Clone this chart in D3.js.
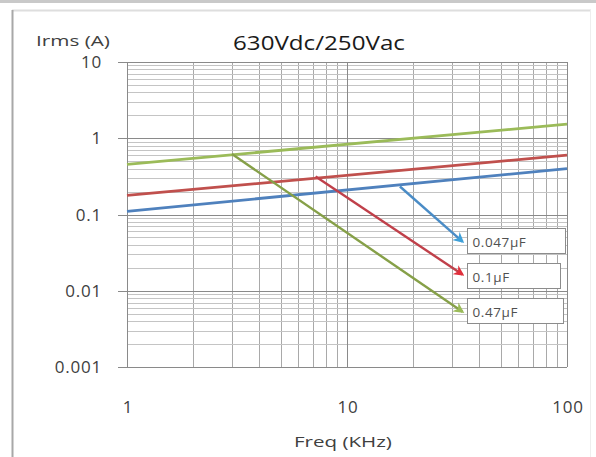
<!DOCTYPE html>
<html><head><meta charset="utf-8">
<script src="https://cdn.jsdelivr.net/npm/d3@7"></script>
<style>body{margin:0;background:#fff}svg{display:block}</style>
</head><body>
<svg id="c" width="596" height="457"></svg>
<script>
const seriesNames = ["0.047µF", "0.1µF", "0.47µF"];
const seriesColors = ["#4f81bd", "#c0504d", "#9bbb59"];
const arrowColors = ["#4a8cc6", "#c0404a", "#86a048"];
const arrowHeadColors = ["#3fa0d8", "#e0303c", "#9bbb59"];
const freqKHz = [1, 100];
const irms047n = [0.11, 0.40];
const irms01u = [0.178, 0.60];
const irms047u = [0.455, 1.53];
const yTicks = [0.001, 0.01, 0.1, 1, 10];
const yTickLabels = ["0.001", "0.01", "0.1", "1", "10"];
const xTicks = [1, 10, 100];
const xTickLabels = ["1", "10", "100"];
// annotation arrows: start [f, I] -> end [f, I]
const arrowStartF = [17.4, 7.2, 3];
const arrowStartI = [0.233, 0.316, 0.62];
const arrowEndF = [33.5, 33.5, 33.5];
const arrowEndI = [0.044, 0.0163, 0.0053];
// label boxes anchored at top-left [f, I]
const boxF = [35.1, 35.1, 35.1];
const boxI = [0.0665, 0.0231, 0.00803];

const svg = d3.select("#c");
const x = d3.scaleLog().domain([1, 100]).range([127, 567]);
const y = d3.scaleLog().domain([0.001, 10]).range([367, 62]);

// frame
svg.append("rect").attr("x",0).attr("y",0).attr("width",596).attr("height",3).attr("fill","#c9c9c9");
svg.append("line").attr("x1",12).attr("x2",591).attr("y1",10.5).attr("y2",10.5).attr("stroke","#dedede").attr("stroke-width",2);
svg.append("line").attr("x1",12.5).attr("x2",12.5).attr("y1",10).attr("y2",457).attr("stroke","#a8a8a8").attr("stroke-width",2);
svg.append("line").attr("x1",590.5).attr("x2",590.5).attr("y1",10).attr("y2",457).attr("stroke","#eeeeee").attr("stroke-width",1);

const g = svg.append("g");
// minor grid
const minorX = [], minorY = [];
for (let d = 1; d < 100; d *= 10) for (let k = 2; k <= 9; k++) minorX.push(d * k);
for (let d = 0.001; d < 9; d *= 10) for (let k = 2; k <= 9; k++) minorY.push(d * k);
g.selectAll(".mx").data(minorX).join("line")
  .attr("x1", d => Math.round(x(d)) + 0.5).attr("x2", d => Math.round(x(d)) + 0.5)
  .attr("y1", y(10)).attr("y2", y(0.001)).attr("stroke", "#a9a9a9").attr("stroke-width", 1);
g.selectAll(".my").data(minorY).join("line")
  .attr("y1", d => Math.round(y(d)) + 0.5).attr("y2", d => Math.round(y(d)) + 0.5)
  .attr("x1", x(1)).attr("x2", x(100)).attr("stroke", "#c4c4c4").attr("stroke-width", 1);
// major grid
g.selectAll(".Mx").data(xTicks).join("line")
  .attr("x1", d => Math.round(x(d)) + 0.5).attr("x2", d => Math.round(x(d)) + 0.5)
  .attr("y1", y(10)).attr("y2", y(0.001)).attr("stroke", "#8a8a8a").attr("stroke-width", 1);
g.selectAll(".My").data(yTicks).join("line")
  .attr("y1", d => Math.round(y(d)) + 0.5).attr("y2", d => Math.round(y(d)) + 0.5)
  .attr("x1", x(1) - 9).attr("x2", x(100)).attr("stroke", "#8a8a8a").attr("stroke-width", 1);

// axis labels
const font = "'Open Sans', sans-serif";
g.selectAll(".yl").data(yTicks).join("text")
  .attr("x", 102).attr("y", d => y(d) + 6).attr("text-anchor", "end")
  .attr("font-family", font).attr("font-size", 17).attr("letter-spacing", 0.8).attr("fill", "#404040")
  .text((d, i) => yTickLabels[i]);
g.selectAll(".xl").data(xTicks).join("text")
  .attr("x", d => x(d) + 1).attr("y", 413).attr("text-anchor", "middle")
  .attr("font-family", font).attr("font-size", 17).attr("letter-spacing", 0.8).attr("fill", "#404040")
  .text((d, i) => xTickLabels[i]);

function fitText(str, x0, yb, size, target, color) {
  const t = svg.append("text").attr("x", 0).attr("y", 0)
    .attr("font-family", font).attr("font-size", size).attr("fill", color).text(str);
  const w = t.node().getComputedTextLength();
  t.attr("transform", `translate(${x0},${yb}) scale(${target / w},1)`);
  return t;
}
fitText("630Vdc/250Vac", 233, 50, 20, 172, "#1a1a1a");
fitText("Irms (A)", 36, 46, 15, 74, "#404040");
fitText("Freq (KHz)", 294, 447, 15, 98, "#404040");

// series
const series = [irms047n, irms01u, irms047u];
const line = d3.line().x(d => x(d[0])).y(d => y(d[1]));
series.forEach((vals, i) => {
  g.append("path").datum(freqKHz.map((f, j) => [f, vals[j]]))
    .attr("d", line).attr("fill", "none").attr("stroke", seriesColors[i]).attr("stroke-width", 2.8);
});

// arrow markers
const defs = svg.append("defs");
arrowHeadColors.forEach((c, i) => {
  defs.append("marker").attr("id", "ah" + i).attr("viewBox", "0 0 10 10")
    .attr("refX", 8).attr("refY", 5).attr("markerWidth", 4.5).attr("markerHeight", 4.5)
    .attr("orient", "auto").attr("markerUnits", "strokeWidth")
    .append("path").attr("d", "M0,0 L10,5 L0,10 L3,5 Z").attr("fill", c);
});
arrowStartF.forEach((f, i) => {
  g.append("line").attr("x1", x(f)).attr("y1", y(arrowStartI[i]))
    .attr("x2", x(arrowEndF[i])).attr("y2", y(arrowEndI[i]))
    .attr("stroke", arrowColors[i]).attr("stroke-width", 2.4)
    .attr("marker-end", "url(#ah" + i + ")");
});

// label boxes
const boxW = [98, 93, 96];
boxF.forEach((f, i) => {
  const bx = Math.round(x(f)) + 0.5, by = Math.round(y(boxI[i])) + 0.5;
  g.append("rect").attr("x", bx).attr("y", by).attr("width", boxW[i]).attr("height", 25)
    .attr("fill", "#fff").attr("stroke", "#8c8c8c").attr("stroke-width", 1);
  g.append("text").attr("x", bx + 5).attr("y", by + 18)
    .attr("font-family", font).attr("font-size", 13.5).attr("letter-spacing", 0.6).attr("fill", "#505050").text(seriesNames[i]);
});
</script>
</body></html>
